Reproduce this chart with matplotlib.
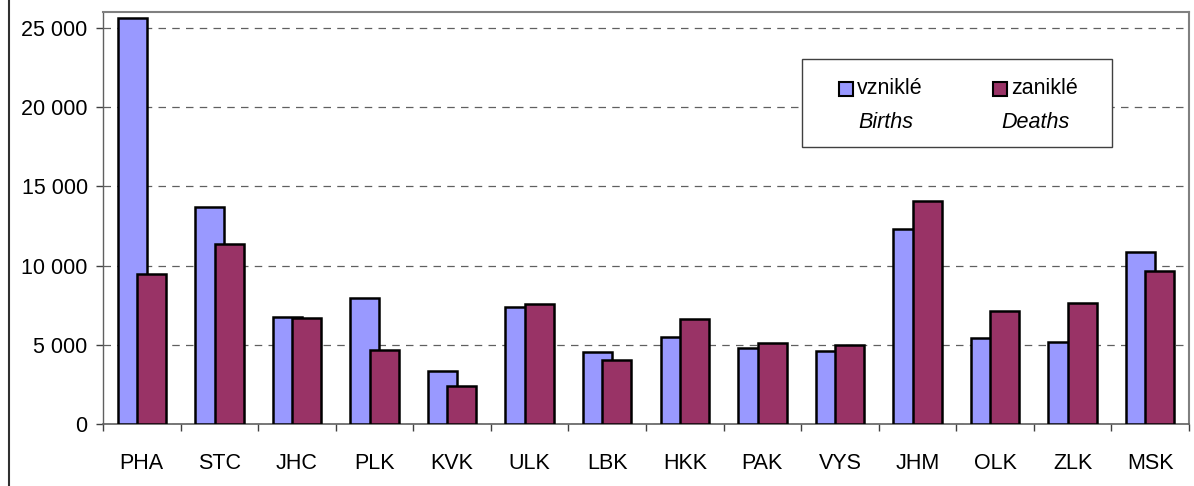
import matplotlib
matplotlib.use("Agg")
import matplotlib.pyplot as plt
import numpy as np
from matplotlib.patches import Rectangle
from matplotlib.lines import Line2D

categories = ["PHA", "STC", "JHC", "PLK", "KVK", "ULK", "LBK", "HKK", "PAK", "VYS", "JHM", "OLK", "ZLK", "MSK"]
births = [25600, 13700, 6750, 7950, 3350, 7400, 4550, 5500, 4800, 4600, 12300, 5430, 5180, 10880]
deaths = [9450, 11350, 6700, 4670, 2400, 7570, 4040, 6630, 5110, 4990, 14080, 7150, 7640, 9680]
yticks = [0, 5000, 10000, 15000, 20000, 25000]
ytick_labels = ["0", "5 000", "10 000", "15 000", "20 000", "25 000"]
label_b1, label_b2 = "vzniklé", "Births"
label_d1, label_d2 = "zaniklé", "Deaths"

plt.rcParams['font.family'] = ['Liberation Sans', 'DejaVu Sans']
FS = 15.5

W, H = 1194, 486
fig = plt.figure(figsize=(W / 100, H / 100), dpi=100)
ax = fig.add_axes([103 / W, 1 - 424 / H, (1189 - 103) / W, (424 - 12) / H])

c_b = "#9999FF"
c_d = "#993366"
x = np.arange(len(categories))
bw = 0.375
off = 0.125
ax.bar(x - off, births, width=bw, color=c_b, edgecolor="black", linewidth=1.8, zorder=3)
ax.bar(x + off, deaths, width=bw, color=c_d, edgecolor="black", linewidth=1.8, zorder=4)

ax.set_xlim(-0.5, len(categories) - 0.5)
ax.set_ylim(0, 26000)
ax.set_yticks(yticks)
ax.set_yticklabels(ytick_labels, fontsize=FS)
ax.set_xticks(x)
ax.set_xticklabels(categories, fontsize=FS)
ax.set_xticks(np.arange(len(categories) + 1) - 0.5, minor=True)
ax.tick_params(axis='x', which='major', length=0, pad=21)
ax.tick_params(axis='x', which='minor', length=5, width=1, color="#404040", direction='out')
ax.tick_params(axis='y', length=5, width=1, color="#404040", pad=6)
ax.yaxis.grid(True, linestyle=(0, (6, 5)), color="#606060", linewidth=0.9, zorder=0)
ax.set_axisbelow(True)
for s in ax.spines.values():
    s.set_color("#808080")
    s.set_linewidth(1.5)
ax.spines['left'].set_color("#606060")
ax.spines['left'].set_linewidth(1.0)
ax.spines['bottom'].set_color("#606060")
ax.spines['bottom'].set_linewidth(1.2)

# legend box (manual, in figure pixel coordinates)
def fx(px):
    return px / W
def fy(py):
    return 1 - py / H

fig.patches.append(Rectangle((fx(802), fy(147)), fx(1112) - fx(802), fy(59) - fy(147),
                             transform=fig.transFigure, facecolor="white", edgecolor="#404040",
                             linewidth=1.0, zorder=10))
fig.patches.append(Rectangle((fx(839), fy(96)), fx(853) - fx(839), fy(82) - fy(96),
                             transform=fig.transFigure, facecolor=c_b, edgecolor="black",
                             linewidth=1.5, zorder=11))
fig.patches.append(Rectangle((fx(993), fy(96)), fx(1007) - fx(993), fy(82) - fy(96),
                             transform=fig.transFigure, facecolor=c_d, edgecolor="black",
                             linewidth=1.5, zorder=11))
fig.text(fx(857), fy(89), label_b1, fontsize=FS, va='center', ha='left', zorder=12)
fig.text(fx(1011), fy(89), label_d1, fontsize=FS, va='center', ha='left', zorder=12)
fig.text(fx(886), fy(122), label_b2, fontsize=FS, va='center', ha='center', style='italic', zorder=12)
fig.text(fx(1035), fy(122), label_d2, fontsize=FS, va='center', ha='center', style='italic', zorder=12)

# left figure border line
fig.add_artist(Line2D([fx(8.5), fx(8.5)], [0, 1], transform=fig.transFigure, color="#303030", linewidth=1.5))

fig.savefig("out.png", dpi=100, facecolor="white")
